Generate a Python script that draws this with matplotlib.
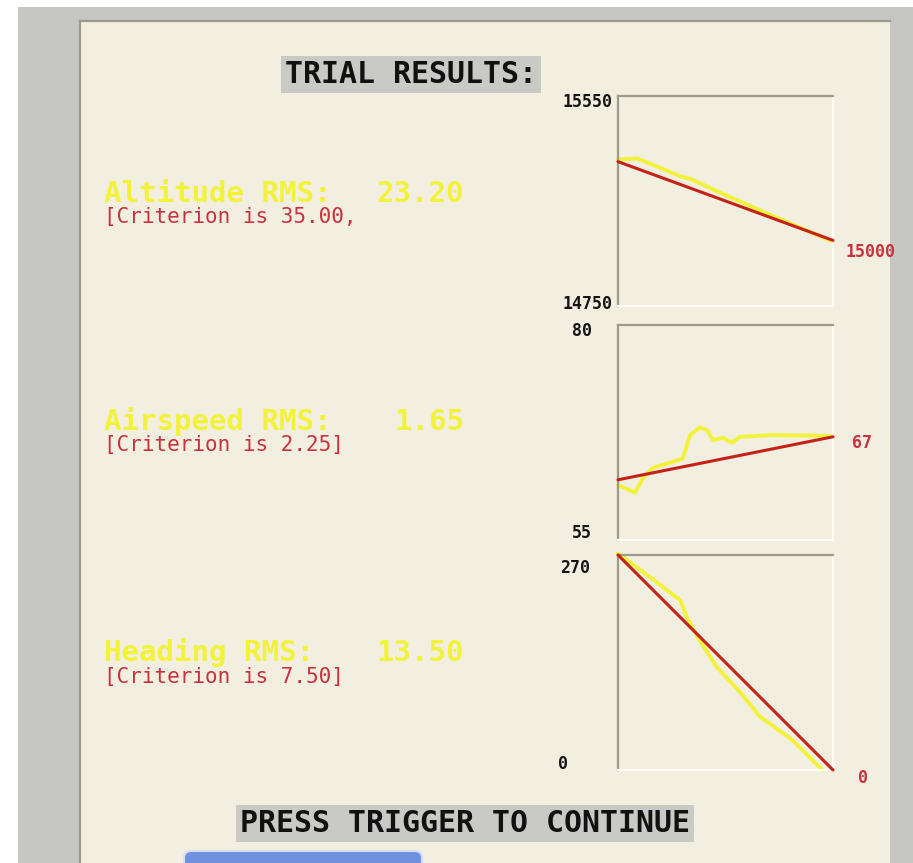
import matplotlib.pyplot as plt
from matplotlib.patches import Rectangle, FancyBboxPatch

W, H = 913, 863

# trial data (time in % of trial)
alt_t = [0, 9, 18, 29, 34, 47, 51, 72, 100]
alt_actual = [15308, 15312, 15282, 15244, 15233, 15184, 15169, 15093, 14995]
alt_target = [15300, 15000]
alt_range = [14750, 15550]

spd_t = [0, 7.9, 11.6, 16.3, 25.6, 30.2, 33.5, 38.1, 41.4, 44.2, 48.8, 53, 56.7, 72.1, 100]
spd_actual = [61.4, 60.5, 62.2, 63.4, 64.1, 64.5, 67.2, 68.1, 67.8, 66.6, 66.9, 66.3, 67.0, 67.2, 67.1]
spd_target = [62, 67]
spd_range = [55, 80]

hdg_t = [0, 15, 29, 32, 37, 46, 57, 66, 81, 95]
hdg_actual = [272, 242, 213, 192, 167, 129, 97, 67, 38, 0]
hdg_target = [270, 0]
hdg_range = [0, 270]

target_t = [0, 100]

rms_names = ['Altitude RMS:', 'Airspeed RMS:', 'Heading RMS:']
rms_values = ['23.20', '1.65', '13.50']
criteria = ['[Criterion is 35.00,', '[Criterion is 2.25]', '[Criterion is 7.50]']

CREAM = '#f2efe1'
GRAY = '#c6c6c4'
YELLOW = '#f2f23a'
RED = '#c42218'
TXTRED = '#c8323e'
MONO = 'DejaVu Sans Mono'


def fx(x):
    return x / W


def fy(y):
    return 1 - y / H


fig = plt.figure(figsize=(W / 100, H / 100), dpi=100)
fig.patch.set_facecolor('white')

# window frame (kept behind the axes)
fig.add_artist(Rectangle((fx(18), 0), fx(W - 18), fy(7), transform=fig.transFigure,
                         facecolor=GRAY, edgecolor='none', zorder=-3))
fig.add_artist(Rectangle((fx(80), 0), fx(890 - 80), fy(21), transform=fig.transFigure,
                         facecolor=CREAM, edgecolor='none', zorder=-2))
fig.add_artist(plt.Line2D([fx(80), fx(890)], [fy(21), fy(21)], transform=fig.transFigure,
                          color='#9b9b8b', lw=1.6, zorder=-1))
fig.add_artist(plt.Line2D([fx(80), fx(80)], [fy(21), 0], transform=fig.transFigure,
                          color='#9b9b8b', lw=1.6, zorder=-1))

# header / footer
fig.text(fx(411), fy(83), 'TRIAL RESULTS:', family=MONO, weight='bold', fontsize=21.5,
         ha='center', va='baseline', color='#111111',
         bbox=dict(boxstyle='square,pad=0.12', facecolor='#c9c9c6', edgecolor='none'))
fig.text(fx(465), fy(832), 'PRESS TRIGGER TO CONTINUE', family=MONO, weight='bold', fontsize=21.5,
         ha='center', va='baseline', color='#111111',
         bbox=dict(boxstyle='square,pad=0.12', facecolor='#c9c9c6', edgecolor='none'))
fig.add_artist(FancyBboxPatch((fx(184), fy(875)), fx(422 - 184), fy(851) - fy(875),
                              boxstyle='round,pad=0,rounding_size=0.008',
                              transform=fig.transFigure, facecolor='#7191df',
                              edgecolor='#d6def4', lw=1.5))

# left side RMS texts
name_base = [202, 430, 661]
crit_base = [223, 451, 683]
for name, val, crit, yb, yc in zip(rms_names, rms_values, criteria, name_base, crit_base):
    fig.text(fx(104), fy(yb), name, family=MONO, weight='bold', fontsize=21,
             color=YELLOW, va='baseline', ha='left')
    fig.text(fx(464), fy(yb), val, family=MONO, weight='bold', fontsize=21,
             color=YELLOW, va='baseline', ha='right')
    fig.text(fx(104), fy(yc), crit, family=MONO, fontsize=15,
             color=TXTRED, va='baseline', ha='left')

# small charts
boxes = [(96, 306), (325, 540), (555, 770)]
series = [(alt_t, alt_actual, alt_target, alt_range),
          (spd_t, spd_actual, spd_target, spd_range),
          (hdg_t, hdg_actual, hdg_target, hdg_range)]
ylab_pos = [[(612, 101), (612, 303)], [(592, 330), (592, 532)], [(590, 567), (568, 763)]]
end_pos = [(845, 252), (852, 443), (858, 778)]

for (top, bot), (t, actual, target, rng), lpos, epos in zip(boxes, series, ylab_pos, end_pos):
    ax = fig.add_axes([fx(618), fy(bot), fx(833 - 618), fy(top) - fy(bot)])
    ax.set_facecolor(CREAM)
    ax.plot(t, actual, color=YELLOW, lw=2.8, solid_capstyle='round', clip_on=False, zorder=2)
    ax.plot(target_t, target, color=RED, lw=2.2, solid_capstyle='round', clip_on=False, zorder=3)
    ax.set_xlim(0, 100)
    ax.set_ylim(rng[0], rng[1])
    ax.set_xticks([])
    ax.set_yticks([])
    for s in ['top', 'left']:
        ax.spines[s].set_color('#9c9a88')
        ax.spines[s].set_linewidth(1.6)
    for s in ['right', 'bottom']:
        ax.spines[s].set_color('#fdfcf5')
        ax.spines[s].set_linewidth(1.6)
    labels = [str(rng[1]), str(rng[0])]
    for lab, (x, y) in zip(labels, lpos):
        fig.text(fx(x), fy(y + 6), lab, family=MONO, weight='bold', fontsize=12,
                 color='#151515', ha='right', va='baseline')
    fig.text(fx(epos[0]), fy(epos[1] + 5), str(target[-1]), family=MONO, weight='bold',
             fontsize=12, color=TXTRED, ha='left', va='baseline')

fig.savefig('out.png', dpi=100, facecolor=fig.get_facecolor())
